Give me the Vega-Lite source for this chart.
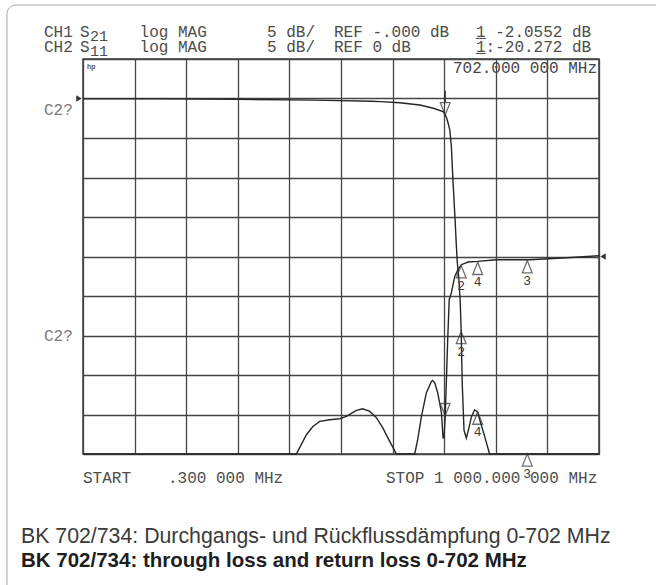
{
  "$schema": "https://vega.github.io/schema/vega-lite/v6.json",
  "width": 516,
  "height": 395,
  "autosize": "none",
  "padding": {"left": 83, "top": 59, "right": 57, "bottom": 131},
  "background": "white",
  "config": {
    "view": {"stroke": "#3a3a3a", "strokeWidth": 1.5},
    "text": {"font": "Liberation Mono"},
    "axis": {"grid": true, "labels": false, "ticks": false, "domain": false, "gridColor": "#454545", "gridWidth": 1.3, "gridOpacity": 1}
  },
  "datasets": {
    "s21": [
      {"f": 0.3, "db": -0.05}, {"f": 150, "db": -0.05}, {"f": 300, "db": -0.1}, {"f": 450, "db": -0.2},
      {"f": 560, "db": -0.35}, {"f": 576, "db": -0.4}, {"f": 614, "db": -0.53}, {"f": 653, "db": -0.82},
      {"f": 679, "db": -1.24}, {"f": 698, "db": -1.67}, {"f": 702, "db": -2.06}, {"f": 705, "db": -2.5},
      {"f": 708, "db": -3.2}, {"f": 711, "db": -4.0}, {"f": 714, "db": -6.1}, {"f": 717, "db": -10.3},
      {"f": 720.5, "db": -14.5}, {"f": 723.7, "db": -18.7}, {"f": 725.5, "db": -20.8}, {"f": 728.2, "db": -22.6},
      {"f": 731, "db": -25.5}, {"f": 733, "db": -29.5}, {"f": 735, "db": -36}, {"f": 738.5, "db": -42},
      {"f": 743, "db": -43}, {"f": 748, "db": -41.7}, {"f": 752.8, "db": -40.3}, {"f": 759, "db": -39.4},
      {"f": 765, "db": -39.7}, {"f": 769, "db": -40.7}, {"f": 778.6, "db": -42.8}, {"f": 788, "db": -45},
      {"f": 900, "db": -45}, {"f": 1000, "db": -45}
    ],
    "s11": [
      {"f": 0.3, "db": -25}, {"f": 413.7, "db": -25}, {"f": 420.1, "db": -24.2}, {"f": 433.1, "db": -22.56},
      {"f": 445.3, "db": -21.55}, {"f": 458.9, "db": -20.87}, {"f": 478.3, "db": -20.66}, {"f": 497.6, "db": -20.53},
      {"f": 510.6, "db": -20.24}, {"f": 530, "db": -19.48}, {"f": 542.2, "db": -19.27}, {"f": 555.8, "db": -19.61},
      {"f": 568.7, "db": -20.4}, {"f": 580.9, "db": -21.67}, {"f": 594.5, "db": -23.4}, {"f": 607.5, "db": -25},
      {"f": 643, "db": -25}, {"f": 648.7, "db": -23.17}, {"f": 656, "db": -20.24}, {"f": 665.6, "db": -17.24},
      {"f": 675.3, "db": -15.81}, {"f": 677.8, "db": -15.68}, {"f": 681.6, "db": -15.97}, {"f": 687.5, "db": -17.24},
      {"f": 694.7, "db": -19.77}, {"f": 697.8, "db": -22.94}, {"f": 699.7, "db": -22.94}, {"f": 702, "db": -20.27},
      {"f": 704.4, "db": -15.6}, {"f": 706.9, "db": -10.5}, {"f": 709.8, "db": -5.47}, {"f": 714, "db": -4.58},
      {"f": 720.4, "db": -2.56}, {"f": 726.8, "db": -1.67}, {"f": 733.4, "db": -1.04}, {"f": 746.2, "db": -0.7},
      {"f": 765, "db": -0.62}, {"f": 801.2, "db": -0.41}, {"f": 865.7, "db": -0.41}, {"f": 929.7, "db": -0.19},
      {"f": 1000, "db": 0.1}
    ],
    "markers": [
      {"ch": 1, "m": "1", "f": 702, "db": -2.06},
      {"ch": 1, "m": "2", "f": 733, "db": -29.5},
      {"ch": 1, "m": "4", "f": 765, "db": -39.7},
      {"ch": 1, "m": "3", "f": 861, "db": -45},
      {"ch": 1, "m": "R", "f": 0.3, "db": 0},
      {"ch": 2, "m": "1", "f": 702, "db": -20.27},
      {"ch": 2, "m": "2", "f": 733, "db": -1.04},
      {"ch": 2, "m": "4", "f": 765, "db": -0.62},
      {"ch": 2, "m": "3", "f": 861, "db": -0.41},
      {"ch": 2, "m": "R", "f": 1000, "db": 0}
    ],
    "notes": [
      {"g": "mono", "t": "CH1", "f": -75.26, "db": 7.722},
      {"g": "mono", "t": "S", "f": -5.51, "db": 7.722},
      {"g": "sub", "t": "21", "f": 13.86, "db": 7.722},
      {"g": "mono", "t": "log MAG", "f": 109.96, "db": 7.722},
      {"g": "mono", "t": "5 dB/", "f": 356.78, "db": 7.722},
      {"g": "mono", "t": "REF -.000 dB", "f": 486.59, "db": 7.722},
      {"g": "mono", "t": "1 -2.0552 dB", "f": 761.7, "db": 7.722},
      {"g": "mono", "t": "_", "f": 761.7, "db": 7.722},
      {"g": "mono", "t": "CH2", "f": -75.26, "db": 5.886},
      {"g": "mono", "t": "S", "f": -5.51, "db": 5.886},
      {"g": "sub", "t": "11", "f": 13.86, "db": 5.886},
      {"g": "mono", "t": "log MAG", "f": 109.96, "db": 5.886},
      {"g": "mono", "t": "5 dB/", "f": 356.78, "db": 5.886},
      {"g": "mono", "t": "REF 0 dB", "f": 486.59, "db": 5.886},
      {"g": "mono", "t": "1:-20.272 dB", "f": 761.7, "db": 5.886},
      {"g": "mono", "t": "_", "f": 761.7, "db": 5.886},
      {"g": "c2", "t": "C2?", "f": -75.26, "db": -1.456},
      {"g": "c2", "t": "C2?", "f": -75.26, "db": -30.063},
      {"g": "readout", "t": "702.000 000 MHz", "f": 996.12, "db": 3.19},
      {"g": "hp", "t": "hp", "f": 8.05, "db": 3.734},
      {"g": "mono", "t": "START", "f": 0.3, "db": -48.608},
      {"g": "mono", "t": ".300 000 MHz", "f": 164.98, "db": -48.608},
      {"g": "mono", "t": "STOP 1 000.000 000 MHz", "f": 587.33, "db": -48.608},
      {"g": "cap1", "t": "BK 702/734: Durchgangs- und Rückflussdämpfung 0-702 MHz", "f": -119.82, "db": -56.203},
      {"g": "cap2", "t": "BK 702/734: through loss and return loss 0-702 MHz", "f": -119.82, "db": -59.304}
    ]
  },
  "resolve": {"scale": {"y": "independent"}},
  "layer": [
    {
      "layer": [
        {
          "data": {"values": [{"frame": "outer"}]},
          "mark": {"type": "rect", "filled": false, "fill": null, "stroke": "#a8a8a8", "strokeWidth": 1, "cornerRadius": 9},
          "encoding": {
            "x": {"datum": -146.94, "type": "quantitative", "title": null, "scale": {"domain": [0.3, 1000], "nice": false, "zero": false}, "axis": {"values": [0.3, 100.27, 200.24, 300.21, 400.18, 500.15, 600.12, 700.09, 800.06, 900.03, 1000], "title": null}},
            "x2": {"datum": 1195.7},
            "y": {"datum": 11.835, "type": "quantitative", "title": null, "scale": {"domain": [-45, 5], "nice": false, "zero": false}, "axis": {"values": [-45, -40, -35, -30, -25, -20, -15, -10, -5, 0, 5], "title": null}},
            "y2": {"datum": -69.81}
          }
        },
        {
          "data": {"name": "s21"},
          "mark": {"type": "line", "color": "#262626", "strokeWidth": 1.4},
          "encoding": {
            "x": {"field": "f", "type": "quantitative", "title": null, "scale": {"domain": [0.3, 1000], "nice": false, "zero": false}, "axis": {"values": [0.3, 100.27, 200.24, 300.21, 400.18, 500.15, 600.12, 700.09, 800.06, 900.03, 1000], "title": null}},
            "y": {"field": "db", "type": "quantitative", "title": null, "scale": {"domain": [-45, 5], "nice": false, "zero": false}, "axis": {"values": [-45, -40, -35, -30, -25, -20, -15, -10, -5, 0, 5], "title": null}}
          }
        },
        {
          "data": {"name": "markers"},
          "transform": [{"filter": "datum.ch == 1 && datum.m != '1' && datum.m != 'R'"}],
          "mark": {"type": "point", "shape": "M0,-1L0.8,1L-0.8,1Z", "size": 150, "filled": false, "stroke": "#333333", "strokeWidth": 1.3, "yOffset": 6},
          "encoding": {
            "x": {"field": "f", "type": "quantitative", "title": null, "scale": {"domain": [0.3, 1000], "nice": false, "zero": false}, "axis": {"values": [0.3, 100.27, 200.24, 300.21, 400.18, 500.15, 600.12, 700.09, 800.06, 900.03, 1000], "title": null}},
            "y": {"field": "db", "type": "quantitative", "title": null, "scale": {"domain": [-45, 5], "nice": false, "zero": false}, "axis": {"values": [-45, -40, -35, -30, -25, -20, -15, -10, -5, 0, 5], "title": null}}
          }
        },
        {
          "data": {"name": "markers"},
          "transform": [{"filter": "datum.ch == 1 && datum.m != '1' && datum.m != 'R'"}],
          "mark": {"type": "text", "font": "Liberation Mono", "fontSize": 13, "color": "#3a3a3a", "baseline": "middle", "dy": 20},
          "encoding": {
            "x": {"field": "f", "type": "quantitative", "title": null, "scale": {"domain": [0.3, 1000], "nice": false, "zero": false}, "axis": {"values": [0.3, 100.27, 200.24, 300.21, 400.18, 500.15, 600.12, 700.09, 800.06, 900.03, 1000], "title": null}},
            "y": {"field": "db", "type": "quantitative", "title": null, "scale": {"domain": [-45, 5], "nice": false, "zero": false}, "axis": {"values": [-45, -40, -35, -30, -25, -20, -15, -10, -5, 0, 5], "title": null}},
            "text": {"field": "m"}
          }
        },
        {
          "data": {"name": "markers"},
          "transform": [{"filter": "datum.ch == 1 && datum.m == '1'"}],
          "mark": {"type": "point", "shape": "M0,1L0.8,-1L-0.8,-1Z", "size": 150, "filled": false, "stroke": "#333333", "strokeWidth": 1.3, "yOffset": -6},
          "encoding": {
            "x": {"field": "f", "type": "quantitative", "title": null, "scale": {"domain": [0.3, 1000], "nice": false, "zero": false}, "axis": {"values": [0.3, 100.27, 200.24, 300.21, 400.18, 500.15, 600.12, 700.09, 800.06, 900.03, 1000], "title": null}},
            "y": {"field": "db", "type": "quantitative", "title": null, "scale": {"domain": [-45, 5], "nice": false, "zero": false}, "axis": {"values": [-45, -40, -35, -30, -25, -20, -15, -10, -5, 0, 5], "title": null}}
          }
        },
        {
          "data": {"name": "markers"},
          "transform": [{"filter": "datum.ch == 1 && datum.m == '1'"}],
          "mark": {"type": "rule", "color": "#333333", "strokeWidth": 1.4, "yOffset": -24, "y2Offset": -12},
          "encoding": {
            "x": {"field": "f", "type": "quantitative", "title": null, "scale": {"domain": [0.3, 1000], "nice": false, "zero": false}, "axis": {"values": [0.3, 100.27, 200.24, 300.21, 400.18, 500.15, 600.12, 700.09, 800.06, 900.03, 1000], "title": null}},
            "y": {"field": "db", "type": "quantitative", "title": null, "scale": {"domain": [-45, 5], "nice": false, "zero": false}, "axis": {"values": [-45, -40, -35, -30, -25, -20, -15, -10, -5, 0, 5], "title": null}},
            "y2": {"field": "db"}
          }
        },
        {
          "data": {"name": "markers"},
          "transform": [{"filter": "datum.ch == 1 && datum.m == 'R'"}],
          "mark": {"type": "point", "shape": "triangle-right", "size": 40, "filled": true, "color": "#333333", "opacity": 1, "xOffset": -4},
          "encoding": {
            "x": {"field": "f", "type": "quantitative", "title": null, "scale": {"domain": [0.3, 1000], "nice": false, "zero": false}, "axis": {"values": [0.3, 100.27, 200.24, 300.21, 400.18, 500.15, 600.12, 700.09, 800.06, 900.03, 1000], "title": null}},
            "y": {"field": "db", "type": "quantitative", "title": null, "scale": {"domain": [-45, 5], "nice": false, "zero": false}, "axis": {"values": [-45, -40, -35, -30, -25, -20, -15, -10, -5, 0, 5], "title": null}}
          }
        },
        {
          "data": {"name": "notes"},
          "transform": [{"filter": "datum.g == 'mono'"}],
          "mark": {"type": "text", "font": "Liberation Mono", "fontSize": 16, "color": "#4d4d4d", "align": "left", "baseline": "alphabetic"},
          "encoding": {
            "x": {"field": "f", "type": "quantitative", "title": null, "scale": {"domain": [0.3, 1000], "nice": false, "zero": false}, "axis": {"values": [0.3, 100.27, 200.24, 300.21, 400.18, 500.15, 600.12, 700.09, 800.06, 900.03, 1000], "title": null}},
            "y": {"field": "db", "type": "quantitative", "title": null, "scale": {"domain": [-45, 5], "nice": false, "zero": false}, "axis": {"values": [-45, -40, -35, -30, -25, -20, -15, -10, -5, 0, 5], "title": null}},
            "text": {"field": "t"}
          }
        },
        {
          "data": {"name": "notes"},
          "transform": [{"filter": "datum.g == 'sub'"}],
          "mark": {"type": "text", "font": "Liberation Mono", "fontSize": 15, "color": "#4d4d4d", "align": "left", "baseline": "alphabetic", "dy": 4},
          "encoding": {
            "x": {"field": "f", "type": "quantitative", "title": null, "scale": {"domain": [0.3, 1000], "nice": false, "zero": false}, "axis": {"values": [0.3, 100.27, 200.24, 300.21, 400.18, 500.15, 600.12, 700.09, 800.06, 900.03, 1000], "title": null}},
            "y": {"field": "db", "type": "quantitative", "title": null, "scale": {"domain": [-45, 5], "nice": false, "zero": false}, "axis": {"values": [-45, -40, -35, -30, -25, -20, -15, -10, -5, 0, 5], "title": null}},
            "text": {"field": "t"}
          }
        },
        {
          "data": {"name": "notes"},
          "transform": [{"filter": "datum.g == 'c2'"}],
          "mark": {"type": "text", "font": "Liberation Mono", "fontSize": 16, "color": "#7a7a7a", "align": "left", "baseline": "middle"},
          "encoding": {
            "x": {"field": "f", "type": "quantitative", "title": null, "scale": {"domain": [0.3, 1000], "nice": false, "zero": false}, "axis": {"values": [0.3, 100.27, 200.24, 300.21, 400.18, 500.15, 600.12, 700.09, 800.06, 900.03, 1000], "title": null}},
            "y": {"field": "db", "type": "quantitative", "title": null, "scale": {"domain": [-45, 5], "nice": false, "zero": false}, "axis": {"values": [-45, -40, -35, -30, -25, -20, -15, -10, -5, 0, 5], "title": null}},
            "text": {"field": "t"}
          }
        },
        {
          "data": {"name": "notes"},
          "transform": [{"filter": "datum.g == 'readout'"}],
          "mark": {"type": "text", "font": "Liberation Mono", "fontSize": 16, "color": "#454545", "align": "right", "baseline": "alphabetic"},
          "encoding": {
            "x": {"field": "f", "type": "quantitative", "title": null, "scale": {"domain": [0.3, 1000], "nice": false, "zero": false}, "axis": {"values": [0.3, 100.27, 200.24, 300.21, 400.18, 500.15, 600.12, 700.09, 800.06, 900.03, 1000], "title": null}},
            "y": {"field": "db", "type": "quantitative", "title": null, "scale": {"domain": [-45, 5], "nice": false, "zero": false}, "axis": {"values": [-45, -40, -35, -30, -25, -20, -15, -10, -5, 0, 5], "title": null}},
            "text": {"field": "t"}
          }
        },
        {
          "data": {"name": "notes"},
          "transform": [{"filter": "datum.g == 'hp'"}],
          "mark": {"type": "text", "font": "Liberation Sans", "fontSize": 7, "fontWeight": "bold", "color": "#555555", "align": "left", "baseline": "alphabetic"},
          "encoding": {
            "x": {"field": "f", "type": "quantitative", "title": null, "scale": {"domain": [0.3, 1000], "nice": false, "zero": false}, "axis": {"values": [0.3, 100.27, 200.24, 300.21, 400.18, 500.15, 600.12, 700.09, 800.06, 900.03, 1000], "title": null}},
            "y": {"field": "db", "type": "quantitative", "title": null, "scale": {"domain": [-45, 5], "nice": false, "zero": false}, "axis": {"values": [-45, -40, -35, -30, -25, -20, -15, -10, -5, 0, 5], "title": null}},
            "text": {"field": "t"}
          }
        },
        {
          "data": {"name": "notes"},
          "transform": [{"filter": "datum.g == 'cap1'"}],
          "mark": {"type": "text", "font": "Liberation Sans", "fontSize": 21.3, "color": "#3a3a3a", "align": "left", "baseline": "alphabetic"},
          "encoding": {
            "x": {"field": "f", "type": "quantitative", "title": null, "scale": {"domain": [0.3, 1000], "nice": false, "zero": false}, "axis": {"values": [0.3, 100.27, 200.24, 300.21, 400.18, 500.15, 600.12, 700.09, 800.06, 900.03, 1000], "title": null}},
            "y": {"field": "db", "type": "quantitative", "title": null, "scale": {"domain": [-45, 5], "nice": false, "zero": false}, "axis": {"values": [-45, -40, -35, -30, -25, -20, -15, -10, -5, 0, 5], "title": null}},
            "text": {"field": "t"}
          }
        },
        {
          "data": {"name": "notes"},
          "transform": [{"filter": "datum.g == 'cap2'"}],
          "mark": {"type": "text", "font": "Liberation Sans", "fontSize": 20.5, "fontWeight": "bold", "color": "#1e1e1e", "align": "left", "baseline": "alphabetic"},
          "encoding": {
            "x": {"field": "f", "type": "quantitative", "title": null, "scale": {"domain": [0.3, 1000], "nice": false, "zero": false}, "axis": {"values": [0.3, 100.27, 200.24, 300.21, 400.18, 500.15, 600.12, 700.09, 800.06, 900.03, 1000], "title": null}},
            "y": {"field": "db", "type": "quantitative", "title": null, "scale": {"domain": [-45, 5], "nice": false, "zero": false}, "axis": {"values": [-45, -40, -35, -30, -25, -20, -15, -10, -5, 0, 5], "title": null}},
            "text": {"field": "t"}
          }
        }
      ]
    },
    {
      "encoding": {
        "x": {"field": "f", "type": "quantitative", "title": null,
          "scale": {"domain": [0.3, 1000], "nice": false, "zero": false},
          "axis": {"values": [0.3, 100.27, 200.24, 300.21, 400.18, 500.15, 600.12, 700.09, 800.06, 900.03, 1000], "title": null}},
        "y": {"field": "db", "type": "quantitative", "title": null,
          "scale": {"domain": [-25, 25], "nice": false, "zero": false},
          "axis": null}
      },
      "layer": [
        {
          "data": {"name": "s11"},
          "mark": {"type": "line", "color": "#262626", "strokeWidth": 1.4}
        },
        {
          "data": {"name": "markers"},
          "transform": [{"filter": "datum.ch == 2 && datum.m != '1' && datum.m != 'R'"}],
          "mark": {"type": "point", "shape": "M0,-1L0.8,1L-0.8,1Z", "size": 150, "filled": false, "stroke": "#333333", "strokeWidth": 1.3, "yOffset": 7}
        },
        {
          "data": {"name": "markers"},
          "transform": [{"filter": "datum.ch == 2 && datum.m != '1' && datum.m != 'R'"}],
          "mark": {"type": "text", "font": "Liberation Mono", "fontSize": 13, "color": "#3a3a3a", "baseline": "middle", "dy": 21},
          "encoding": {"text": {"field": "m"}}
        },
        {
          "data": {"name": "markers"},
          "transform": [{"filter": "datum.ch == 2 && datum.m == '1'"}],
          "mark": {"type": "point", "shape": "M0,1L0.8,-1L-0.8,-1Z", "size": 150, "filled": false, "stroke": "#333333", "strokeWidth": 1.3, "yOffset": -7}
        },
        {
          "data": {"name": "markers"},
          "transform": [{"filter": "datum.ch == 2 && datum.m == 'R'"}],
          "mark": {"type": "point", "shape": "triangle-left", "size": 40, "filled": true, "color": "#333333", "opacity": 1, "xOffset": 4}
        }
      ]
    }
  ]
}
